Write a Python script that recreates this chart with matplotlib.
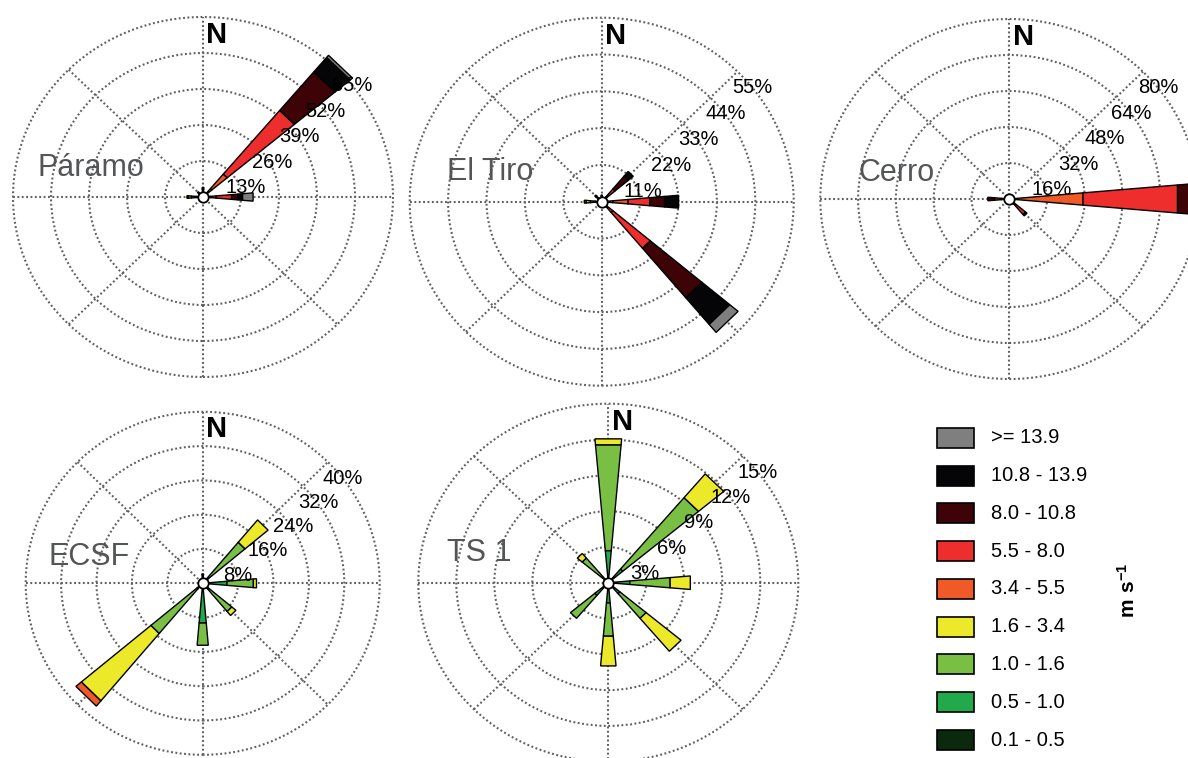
import numpy as np
import matplotlib
matplotlib.use("Agg")
import matplotlib.pyplot as plt
from matplotlib.patches import Polygon, Circle, Rectangle

plt.rcParams['font.family'] = ['Liberation Sans', 'DejaVu Sans']
plt.rcParams['mathtext.fontset'] = 'custom'
plt.rcParams['mathtext.bf'] = 'Liberation Sans:bold'
plt.rcParams['mathtext.rm'] = 'Liberation Sans'

# wind directions (clockwise from north) and speed classes (m s-1), low -> high
directions = ['N', 'NE', 'E', 'SE', 'S', 'SW', 'W', 'NW']
speed_classes = ['0.1 - 0.5', '0.5 - 1.0', '1.0 - 1.6', '1.6 - 3.4', '3.4 - 5.5',
                 '5.5 - 8.0', '8.0 - 10.8', '10.8 - 13.9', '>= 13.9']
class_colors = ['#0b2a0d', '#22a94b', '#79bf43', '#ece92b', '#ef5a28',
                '#ee2d2d', '#3d0307', '#050507', '#7f7f7f']

stations = ['Páramo', 'El Tiro', 'Cerro', 'ECSF', 'TS 1']
ring_steps = [13, 11, 16, 8, 3]   # % per ring

# frequency (%) per direction, columns follow speed_classes
paramo = [
    [0.5, 0.8, 0.8, 0.8, 0.6, 0, 0, 0, 0],
    [0.2, 0.5, 1.0, 2.3, 6.8, 30.0, 18.2, 6.8, 1.0],
    [0.3, 0.5, 0.7, 1.2, 1.8, 5.3, 2.3, 1.5, 3.6],
    [0.2, 0.2, 0.2, 0, 0, 0, 0, 0, 0],
    [0.2, 0.2, 0.1, 0, 0, 0, 0, 0, 0],
    [0.2, 0.2, 0.1, 0, 0, 0, 0, 0, 0],
    [1.0, 1.5, 1.5, 1.0, 0.5, 0, 0, 0, 0],
    [0.5, 0.8, 0.7, 0.5, 0, 0, 0, 0, 0],
]
el_tiro = [
    [0.5, 0.5, 0.5, 0.3, 0.2, 0, 0, 0, 0],
    [0.1, 0.2, 0.3, 0.5, 0.9, 3.0, 5.0, 1.8, 0],
    [0.3, 0.5, 0.8, 1.6, 4.4, 6.2, 4.3, 4.0, 0],
    [0.2, 0.3, 0.5, 1.0, 2.2, 14.0, 19.3, 10.4, 3.1],
    [0.2, 0.2, 0.2, 0, 0, 0, 0, 0, 0],
    [0.2, 0.2, 0.2, 0, 0, 0, 0, 0, 0],
    [0.8, 1.2, 1.3, 1.2, 0.5, 0, 0, 0, 0],
    [0.5, 1.0, 0.8, 0.3, 0, 0, 0, 0, 0],
]
cerro = [
    [0.2, 0.2, 0.2, 0, 0, 0, 0, 0, 0],
    [0.1, 0.1, 0.1, 0, 0, 0, 0, 0, 0],
    [0.2, 0.3, 0.5, 1.5, 28.8, 40.2, 6.5, 0, 0],
    [0.2, 0.3, 0.4, 0.6, 1.5, 6.0, 0.8, 0, 0],
    [0.1, 0.1, 0.1, 0, 0, 0, 0, 0, 0],
    [0.1, 0.1, 0.1, 0, 0, 0, 0, 0, 0],
    [0.3, 0.3, 0.4, 0.8, 1.5, 3.0, 2.8, 0, 0],
    [0.2, 0.2, 0.2, 0, 0, 0, 0, 0, 0],
]
ecsf = [
    [0.4, 0.8, 1.0, 0, 0, 0, 0, 0, 0],
    [0.3, 1.2, 11.0, 6.8, 0, 0, 0, 0, 0],
    [0.5, 5.0, 6.0, 0.7, 0, 0, 0, 0, 0],
    [0.3, 1.5, 6.8, 1.2, 0, 0, 0, 0, 0],
    [0.5, 8.8, 5.2, 0, 0, 0, 0, 0, 0],
    [0.3, 1.5, 13.5, 20.5, 1.6, 0, 0, 0, 0],
    [0.1, 0.1, 0, 0, 0, 0, 0, 0, 0],
    [0.1, 0.1, 0, 0, 0, 0, 0, 0, 0],
]
ts1 = [
    [0.2, 2.5, 8.9, 0.5, 0, 0, 0, 0, 0],
    [0.2, 1.3, 7.8, 2.6, 0, 0, 0, 0, 0],
    [0.2, 1.5, 3.2, 1.6, 0, 0, 0, 0, 0],
    [0.2, 1.0, 2.7, 3.6, 0, 0, 0, 0, 0],
    [0.2, 1.5, 2.8, 2.5, 0, 0, 0, 0, 0],
    [0.2, 1.2, 2.5, 0, 0, 0, 0, 0, 0],
    [0.1, 0.1, 0, 0, 0, 0, 0, 0, 0],
    [0.1, 0.5, 2.1, 0.5, 0, 0, 0, 0, 0],
]
station_data = [paramo, el_tiro, cerro, ecsf, ts1]

W, H = 1188, 758
fig = plt.figure(figsize=(W / 100, H / 100), dpi=100)
fig.patch.set_facecolor('white')

# centre (px) and ring spacing (px, horizontal / vertical) of each rose
layout = [
    (203, 197, 38.0, 36.0),
    (601.7, 201.7, 38.4, 36.8),
    (1009.3, 199, 37.8, 36.0),
    (202.7, 583.3, 35.4, 34.3),
    (608.3, 582.7, 38.0, 35.8),
]
name_pos = [(38, 168), (447, 172), (858, 173), (48, 557), (447, 553)]

half = np.deg2rad(5)
grid_kw = dict(color='#606060', lw=1.5, ls=(0, (0.9, 1.2)), zorder=1)

for name, step, data, (cx, cy, rh, rv), (nx, ny) in zip(
        stations, ring_steps, station_data, layout, name_pos):
    s = 5.3
    ax = fig.add_axes([(cx - s * rh) / W, 1 - (cy + s * rv) / H,
                       2 * s * rh / W, 2 * s * rv / H])
    M = 5 * step
    ax.set_xlim(-s * step, s * step)
    ax.set_ylim(-s * step, s * step)
    ax.axis('off')

    # dotted rings and spokes
    for k in range(1, 6):
        ax.add_patch(Circle((0, 0), k * step, fill=False, clip_on=False, **grid_kw))
    for a in np.deg2rad([0, 45, 90, 135]):
        ax.plot([-M * np.sin(a), M * np.sin(a)], [-M * np.cos(a), M * np.cos(a)],
                clip_on=False, **grid_kw)

    # stacked petals
    for d, row in enumerate(data):
        th = np.deg2rad(45 * d)
        r0 = 0.0
        for c, val in enumerate(row):
            if val <= 0:
                continue
            r1 = r0 + val
            pts = [(r0 * np.sin(th - half), r0 * np.cos(th - half)),
                   (r1 * np.sin(th - half), r1 * np.cos(th - half)),
                   (r1 * np.sin(th + half), r1 * np.cos(th + half)),
                   (r0 * np.sin(th + half), r0 * np.cos(th + half))]
            ax.add_patch(Polygon(pts, closed=True, facecolor=class_colors[c],
                                 edgecolor='black', lw=1.0, zorder=3,
                                 clip_on=False))
            r0 = r1

    ax.plot(0, 0, 'o', ms=7.5, mfc='white', mec='black', mew=1.3, zorder=5,
            clip_on=False)

    # ring labels along the NE diagonal
    c45 = np.cos(np.pi / 4)
    for k in range(1, 6):
        ax.annotate(f'{k * step}%', xy=(k * step * c45, k * step * c45),
                    xytext=(-3.5, -11.5), textcoords='offset points',
                    ha='left', va='center', fontsize=14.5, color='black',
                    zorder=6, annotation_clip=False)

    ax.annotate('N', xy=(0, 0.9 * M), xytext=(2.5, 0), textcoords='offset points',
                ha='left', va='center', fontsize=21, fontweight='bold',
                annotation_clip=False, zorder=6)

    fig.text(nx / W, 1 - ny / H, name, ha='left', va='center', fontsize=22,
             color='#545557')

# legend, highest class on top
lax = fig.add_axes([0, 0, 1, 1], facecolor='none')
lax.set_xlim(0, W)
lax.set_ylim(H, 0)
lax.axis('off')
row_y = 437.7
for c in range(len(speed_classes) - 1, -1, -1):
    lax.add_patch(Rectangle((937, row_y - 10), 37, 20, facecolor=class_colors[c],
                            edgecolor='black', lw=1.2))
    lax.text(991, row_y, speed_classes[c], ha='left', va='center', fontsize=14.5)
    row_y += 37.8
lax.text(1128, 590, r'$\mathbf{m\ s^{-1}}$', rotation=90, ha='center',
         va='center', fontsize=15)

fig.savefig('out.png', dpi=100, facecolor='white')
